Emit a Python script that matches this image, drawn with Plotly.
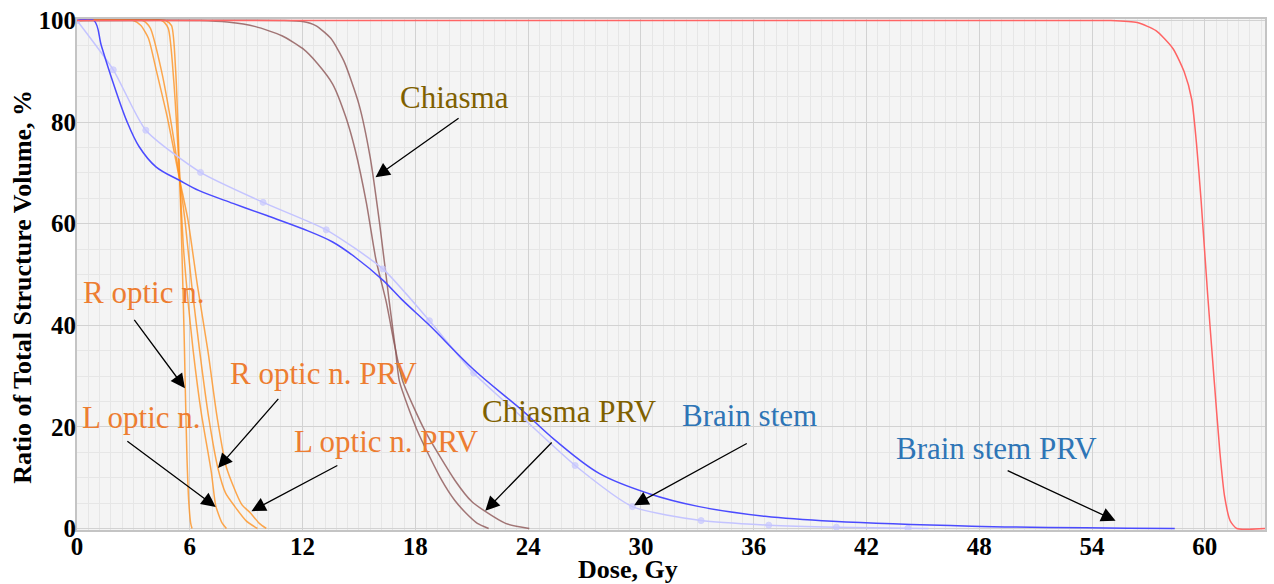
import plotly.graph_objects as go

# Dose-volume histogram curves: dose (Gy) vs ratio of total structure volume (%)
ptv_dose = [0, 55, 56.4, 57.4, 58.3, 58.9, 59.3, 59.55, 59.8, 60.15, 60.5, 60.8, 61.05, 61.35, 61.7, 63.2]
ptv_vol = [100, 100, 99.6, 98, 94.5, 89.9, 84.5, 76, 64.6, 46, 29, 15, 6.3, 1.5, 0, 0]

r_optic_dose = [0, 4.7, 5.03, 5.25, 5.47, 5.6, 5.7, 5.76, 5.85, 5.95, 6.05, 6.12]
r_optic_vol = [100, 100, 99, 90, 68.5, 52, 38, 27.7, 14, 5, 1, 0]

l_optic_dose = [0, 4.5, 4.85, 5.15, 5.47, 5.65, 5.9, 6.18, 6.6, 7.15, 7.38, 7.7, 7.95]
l_optic_vol = [100, 100, 98.5, 88, 68.5, 56, 45, 35, 23, 11, 4.5, 1.2, 0]

r_optic_prv_dose = [0, 3.5, 3.9, 4.5, 5.0, 5.47, 5.74, 6.1, 6.53, 7.0, 7.5, 7.9, 8.4, 9.0, 9.6]
r_optic_prv_vol = [100, 100, 98.5, 90, 80, 68.5, 60.8, 48, 34.8, 22, 11.8, 7, 4.3, 1.5, 0]

l_optic_prv_dose = [0, 3.0, 3.4, 3.8, 4.23, 4.8, 5.47, 5.9, 6.4, 6.97, 7.45, 7.95, 8.75, 9.24, 9.7, 10.07]
l_optic_prv_vol = [100, 100, 99, 96.5, 90, 81, 68.5, 60.8, 48, 34.8, 22, 12, 4.8, 3, 1, 0]

chiasma_dose = [0, 11, 12.0, 12.7, 13.5, 14.2, 15.0, 15.6, 16.1, 16.6, 16.95, 17.15, 18.1, 19.4, 20.1, 20.7, 21.3, 21.9]
chiasma_vol = [100, 100, 99.8, 99, 96.5, 92, 83.5, 73, 60, 45, 35, 29, 19.3, 9.5, 5.5, 3, 1, 0]

chiasma_prv_dose = [0, 6.5, 8, 9.5, 10.9, 12, 12.8, 13.6, 14.3, 14.8, 15.4, 15.9, 16.45, 16.9, 17.33, 18.5, 20.1, 21.0, 21.7, 22.8, 24.06]
chiasma_prv_vol = [100, 100, 99.7, 98.8, 97, 94.5, 91.5, 87.5, 81, 74.5, 64, 53, 44.6, 36, 29, 19.3, 9.5, 5.3, 3.4, 1, 0]

brain_stem_dose = [0, 1.93, 3.66, 6.57, 9.9, 13.26, 16.27, 18.75, 21.1, 23.8, 26.5, 29.55, 33.2, 36.8, 40.4, 44.2, 45.3]
brain_stem_vol = [100, 90.3, 78.4, 70.1, 64.2, 58.8, 51.1, 40.9, 30.6, 21.5, 12.4, 4.3, 1.55, 0.65, 0.25, 0.05, 0]
brain_stem_marker = [6] * 16 + [0]

brain_stem_prv_dose = [0, 0.9, 1.3, 1.9, 2.65, 3.3, 4.2, 5.47, 6.5, 8.3, 10.1, 12, 13.6, 14.8, 16.3, 17.3, 18.75, 21.1, 23.7, 25.4, 27.8, 30.4, 33.1, 36.6, 40.2, 47.6, 58.4]
brain_stem_prv_vol = [100, 100, 95, 88, 80.2, 75.2, 71.2, 68.5, 66.5, 64, 61.6, 59, 56.4, 53.4, 48.8, 45, 40, 31.3, 23.2, 17.5, 10.8, 6.9, 4.3, 2.4, 1.4, 0.45, 0]

x_ticks = [0, 6, 12, 18, 24, 30, 36, 42, 48, 54, 60]
y_ticks = [0, 20, 40, 60, 80, 100]

x_title = "Dose, Gy"
y_title = "Ratio of Total Structure Volume, %"

# Label text, label position, arrow tail and arrow tip (data coordinates)
labels = [
    ("Chiasma", "#7f6000", 20.08, 84.5, 20.38, 80.97, 15.88, 69.17),
    ("R optic n.", "#ed7d31", 3.55, 46.0, 2.99, 41.38, 5.74, 27.61),
    ("L optic n.", "#ed7d31", 3.43, 21.36, 2.60, 17.37, 7.38, 4.25),
    ("R optic n. PRV", "#ed7d31", 13.12, 30.05, 10.78, 25.8, 7.50, 11.92),
    ("L optic n. PRV", "#ed7d31", 16.45, 16.71, 13.93, 12.56, 9.28, 3.41),
    ("Chiasma PRV", "#7f6000", 26.21, 22.59, 25.33, 17.23, 21.72, 3.47),
    ("Brain stem", "#2e75b6", 35.77, 21.9, 35.71, 16.9, 29.64, 4.58),
    ("Brain stem PRV", "#2e75b6", 48.92, 15.35, 49.43, 11.53, 55.25, 1.52),
]

fig = go.Figure()

orange = "rgba(255,140,20,0.75)"
brown = "rgba(140,85,85,0.8)"

def curve(x, y, color, width=1.5, smoothing=0.6):
    fig.add_trace(go.Scatter(x=x, y=y, mode="lines",
                             line=dict(color=color, width=width, shape="spline", smoothing=smoothing),
                             hoverinfo="skip"))

curve(r_optic_dose, r_optic_vol, orange)
curve(l_optic_dose, l_optic_vol, orange)
curve(r_optic_prv_dose, r_optic_prv_vol, orange)
curve(l_optic_prv_dose, l_optic_prv_vol, orange)
curve(chiasma_prv_dose, chiasma_prv_vol, brown)
curve(chiasma_dose, chiasma_vol, brown)

fig.add_trace(go.Scatter(
    x=brain_stem_dose, y=brain_stem_vol, mode="lines+markers",
    line=dict(color="#c4c4ff", width=1.5, shape="spline", smoothing=0.6),
    marker=dict(color="#c8c8ff", size=brain_stem_marker),
    hoverinfo="skip",
))
curve(brain_stem_prv_dose, brain_stem_prv_vol, "#4b4bff", smoothing=1.0)
curve(ptv_dose, ptv_vol, "#ff6464")

serif = "Liberation Serif"

for text, color, tx, ty, ax, ay, hx, hy in labels:
    fig.add_annotation(x=tx, y=ty, text=text, showarrow=False, yshift=2,
                       font=dict(family=serif, size=31, color=color),
                       xanchor="center", yanchor="middle")
    fig.add_annotation(x=hx, y=hy, ax=ax, ay=ay, axref="x", ayref="y", text="",
                       showarrow=True, arrowhead=2, arrowsize=2.2, arrowwidth=1.3,
                       arrowcolor="black")

# Axis titles, placed beside the tick labels
fig.add_annotation(x=0, y=0.5, xref="paper", yref="paper", xshift=-54.5, yshift=-12.75,
                   text=f"<b>{y_title}</b>", textangle=-90, showarrow=False,
                   font=dict(family=serif, size=26, color="black"),
                   xanchor="center", yanchor="middle")
fig.add_annotation(x=29.32, y=0, xref="x", yref="paper", yshift=-39,
                   text=f"<b>{x_title}</b>", showarrow=False,
                   font=dict(family=serif, size=26, color="black"),
                   xanchor="center", yanchor="middle")

fig.update_layout(
    width=1274, height=584,
    margin=dict(l=77, r=7, t=13.5, b=54),
    paper_bgcolor="white", plot_bgcolor="#f4f4f4",
    showlegend=False,
    font=dict(family=serif, color="black"),
)
fig.update_xaxes(
    range=[0, 63.2], tickvals=x_ticks, ticktext=[f"<b>{v}</b>" for v in x_ticks],
    tickfont=dict(size=25, family=serif, color="black"), ticks="", zeroline=False,
    ticklabelstandoff=-7,
    showgrid=True, gridcolor="#d2d2d2", gridwidth=1,
    minor=dict(dtick=0.6, showgrid=True, gridcolor="#e6e6e6", gridwidth=1),
    showline=True, linecolor="#c4c4c4", linewidth=2, mirror=True,
)
fig.update_yaxes(
    range=[-0.3, 100.3], tickvals=y_ticks, ticktext=[f"<b>{v}</b>" for v in y_ticks],
    tickfont=dict(size=25, family=serif, color="black"), ticks="", zeroline=False,
    ticklabelstandoff=-6,
    showgrid=True, gridcolor="#d2d2d2", gridwidth=1,
    minor=dict(dtick=5, showgrid=True, gridcolor="#e6e6e6", gridwidth=1),
    showline=True, linecolor="#c4c4c4", linewidth=2, mirror=True,
)

fig.write_html("out.html")
